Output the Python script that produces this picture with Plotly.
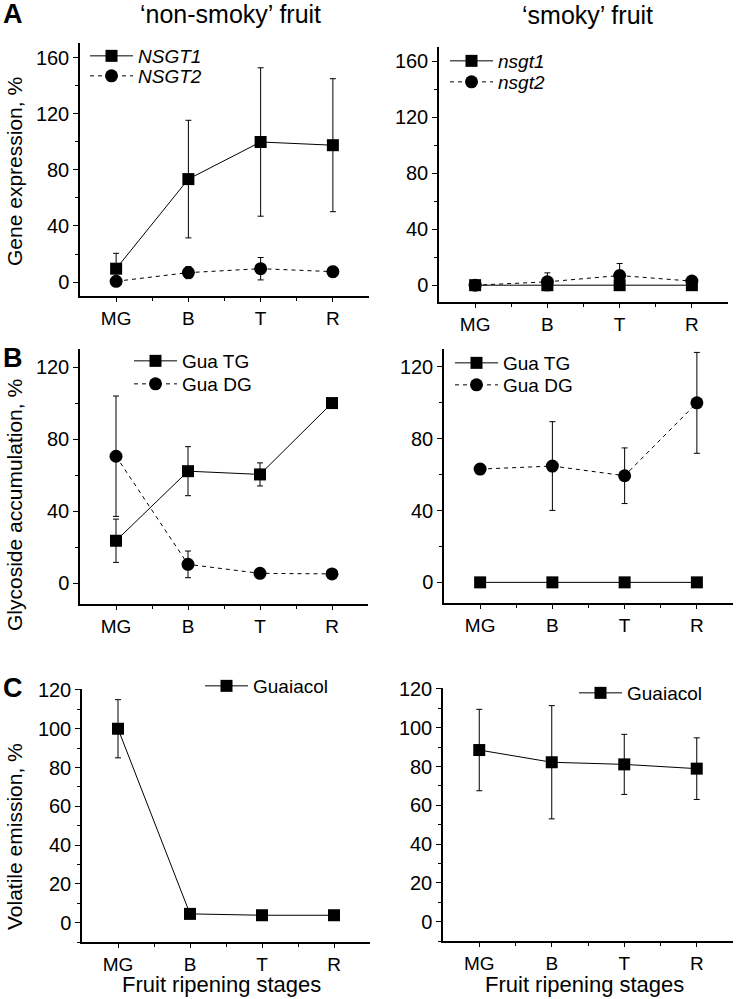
import plotly.graph_objects as go

# ---------------- data ----------------
stages = ["MG", "B", "T", "R"]

# Panel A: gene expression, %
nsgt1_nonsmoky = [9.5, 73.5, 100, 97.7]
nsgt1_nonsmoky_err = [11, 42, 53, 47.5]
nsgt2_nonsmoky = [0.5, 6.7, 9.5, 7.4]
nsgt2_nonsmoky_err = [1, 4.3, 8, 3.8]
nsgt1_smoky = [0, 0, 0, 0]
nsgt1_smoky_err = [0, 0, 0, 0]
nsgt2_smoky = [0, 2.4, 6.9, 2.9]
nsgt2_smoky_err = [1, 6.4, 8.6, 1]

# Panel B: glycoside accumulation, %
guatg_nonsmoky = [23.6, 62.2, 60.4, 100]
guatg_nonsmoky_err = [12, 13.6, 6.4, 0]
guadg_nonsmoky = [70.5, 10.5, 5.5, 5.2]
guadg_nonsmoky_err = [33.4, 7.4, 0, 0]
guatg_smoky = [0, 0, 0, 0]
guatg_smoky_err = [0, 0, 0, 0]
guadg_smoky = [63.1, 64.8, 59.4, 100]
guadg_smoky_err = [3, 24.7, 15.5, 28.1]

# Panel C: volatile emission, %
guaiacol_nonsmoky = [100, 4.5, 3.8, 3.8]
guaiacol_nonsmoky_err = [15, 0, 0, 0]
guaiacol_smoky = [88.5, 82.2, 81.1, 78.9]
guaiacol_smoky_err = [21, 29.2, 15.5, 15.9]

# ---------------- layout helpers ----------------
W, H = 737, 999
FONT = "Arial, Liberation Sans, sans-serif"
xpos = [i + 1 for i in range(len(stages))]
minor_x = [i + 1.5 for i in range(len(stages) - 1)]


def px(p):
    return p / W


def py(p):
    return 1 - p / H


def dx(a, b):
    return [px(a), px(b)]


def dy(top, bottom):
    return [py(bottom), py(top)]


fig = go.Figure()


def add_series(idx, name, y, err, symbol, dash, legend):
    xa = "x" if idx == 1 else f"x{idx}"
    ya = "y" if idx == 1 else f"y{idx}"
    fig.add_trace(go.Scatter(
        x=xpos, y=y, name=name, mode="lines+markers",
        xaxis=xa, yaxis=ya, legend=legend,
        line=dict(color="black", width=1, dash=dash),
        marker=dict(symbol=symbol, size=13 if symbol == "circle" else 12,
                    color="black", line=dict(width=0)),
        error_y=dict(type="data", array=err, visible=True,
                     color="black", thickness=1, width=3),
    ))


DASH = "4px,4px"
add_series(1, "<i>NSGT1</i>", nsgt1_nonsmoky, nsgt1_nonsmoky_err, "square", "solid", "legend")
add_series(1, "<i>NSGT2</i>", nsgt2_nonsmoky, nsgt2_nonsmoky_err, "circle", DASH, "legend2")
add_series(2, "<i>nsgt1</i>", nsgt1_smoky, nsgt1_smoky_err, "square", "solid", "legend3")
add_series(2, "<i>nsgt2</i>", nsgt2_smoky, nsgt2_smoky_err, "circle", DASH, "legend4")
add_series(3, "Gua TG", guatg_nonsmoky, guatg_nonsmoky_err, "square", "solid", "legend5")
add_series(3, "Gua DG", guadg_nonsmoky, guadg_nonsmoky_err, "circle", DASH, "legend6")
add_series(4, "Gua TG", guatg_smoky, guatg_smoky_err, "square", "solid", "legend7")
add_series(4, "Gua DG", guadg_smoky, guadg_smoky_err, "circle", DASH, "legend8")
add_series(5, "Guaiacol", guaiacol_nonsmoky, guaiacol_nonsmoky_err, "square", "solid", "legend9")
add_series(6, "Guaiacol", guaiacol_smoky, guaiacol_smoky_err, "square", "solid", "legend10")

panels = {
    1: dict(x=dx(80, 369), y=dy(43, 296), yr=[-10, 170.7], dt=40),
    2: dict(x=dx(439, 728), y=dy(47, 302), yr=[-12, 170], dt=40),
    3: dict(x=dx(80, 368), y=dy(349, 604), yr=[-11.5, 130], dt=40),
    4: dict(x=dx(444, 733), y=dy(349, 603), yr=[-11.5, 130], dt=40),
    5: dict(x=dx(82, 370), y=dy(689, 942), yr=[-10, 120.5], dt=20),
    6: dict(x=dx(443, 733), y=dy(688, 941), yr=[-10, 120.5], dt=20),
}

axis_common = dict(showline=True, linecolor="black", linewidth=1.5,
                   showgrid=False, zeroline=False, ticks="outside",
                   tickwidth=1.2, tickcolor="black", automargin=False)

layout = {}
for i, p in panels.items():
    xk = "xaxis" if i == 1 else f"xaxis{i}"
    yk = "yaxis" if i == 1 else f"yaxis{i}"
    ya = "y" if i == 1 else f"y{i}"
    xa = "x" if i == 1 else f"x{i}"
    xax = dict(axis_common, domain=p["x"], range=[0.5, 4.5], anchor=ya,
               ticklen=4,
               tickfont=dict(family=FONT, size=19, color="black"),
               tickmode="array", tickvals=xpos, ticktext=stages,
               minor=dict(tickmode="array", tickvals=minor_x, ticks="outside",
                          ticklen=3, tickwidth=1, tickcolor="black"))
    yax = dict(axis_common, domain=p["y"], range=p["yr"], anchor=xa,
               ticklen=5,
               tickfont=dict(family=FONT, size=20, color="black"),
               tickmode="linear", tick0=0, dtick=p["dt"],
               minor=dict(tickmode="linear", tick0=p["dt"] / 2, dtick=p["dt"],
                          ticks="outside", ticklen=3, tickwidth=1,
                          tickcolor="black"))
    layout[xk] = xax
    layout[yk] = yax

leg_font = dict(family=FONT, size=19, color="black")
ITEMW = 43


def leg(text_x, row_y):
    return dict(x=px(text_x - 10 - ITEMW), y=py(row_y), xanchor="left",
                yanchor="middle", font=leg_font, bgcolor="rgba(0,0,0,0)",
                itemwidth=ITEMW)


legend_pos = [(138, 56), (138, 76), (498, 61), (498, 82),
              (182, 361), (182, 384), (503, 363), (503, 385),
              (253, 686), (627, 693)]
for k, (tx, ry) in enumerate(legend_pos):
    key = "legend" if k == 0 else f"legend{k + 1}"
    layout[key] = leg(tx, ry)

ann = []


def add_text(text, x, y, size, angle=0):
    ann.append(dict(text=text, x=px(x), y=py(y), xref="paper", yref="paper",
                    xanchor="center", yanchor="middle", textangle=angle,
                    showarrow=False,
                    font=dict(family=FONT, size=size, color="black")))


add_text("\u2018non-smoky\u2019 fruit", 230, 14, 25)
add_text("\u2018smoky\u2019 fruit", 587, 15, 25)
for letter, ypx in (("A", 14), ("B", 358), ("C", 688)):
    add_text(f"<b>{letter}</b>", 13, ypx, 27)
for text, ypx in (("Gene expression, %", 172), ("Glycoside accumulation, %", 505),
                  ("Volatile emission, %", 837)):
    add_text(text, 14, ypx, 21, -90)
add_text("Fruit ripening stages", 221, 984, 22)
add_text("Fruit ripening stages", 584, 984, 22)

fig.update_layout(
    width=W, height=H, margin=dict(l=0, r=0, t=0, b=0, autoexpand=False),
    paper_bgcolor="white", plot_bgcolor="white",
    showlegend=True, annotations=ann, **layout,
)

fig.write_html(
    "out.html",
    config={"displayModeBar": False},
    post_script="document.body.style.margin='0';document.body.style.padding='0';",
)
